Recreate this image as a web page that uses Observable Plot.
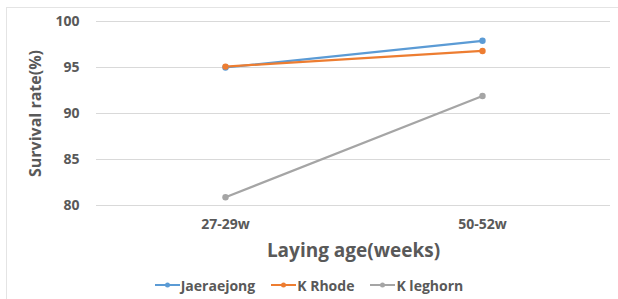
<!DOCTYPE html>
<html>
<head>
<meta charset="utf-8">
<script src="https://cdn.jsdelivr.net/npm/d3@7"></script>
<script src="https://cdn.jsdelivr.net/npm/@observablehq/plot@0.6"></script>
<style>
  html, body { margin: 0; padding: 0; background: #fff; }
  body { width: 618px; height: 299px; overflow: hidden; position: relative; font-family: "Open Sans", sans-serif; }
  #frame { position: absolute; left: 6px; top: 7px; width: 640px; height: 320px; border-left: 1px solid #e4e4e4; border-top: 1px solid #e4e4e4; pointer-events: none; }
  #chart { position: absolute; left: 0; top: 0; }
  #legend { position: absolute; left: 0; top: 273px; width: 618px; height: 24px; display: flex; justify-content: center; align-items: center; gap: 16px; font-weight: 700; font-size: 14px; color: #595959; }
  #legend .item { display: flex; align-items: center; }
  #legend svg { margin-right: 1px; }
</style>
</head>
<body>
<div id="chart"></div>
<div id="legend"></div>
<div id="frame"></div>
<script>
const categories = ["27-29w", "50-52w"];
const seriesNames = ["Jaeraejong", "K Rhode", "K leghorn"];
const jaeraejong = [95.0, 97.9];
const kRhode = [95.1, 96.8];
const kLeghorn = [80.9, 91.9];
const yTicks = [80, 85, 90, 95, 100];
const colors = ["#5B9BD5", "#ED7D31", "#A5A5A5"];
const yTitle = "Survival rate(%)";
const xTitle = "Laying age(weeks)";

const seriesValues = [jaeraejong, kRhode, kLeghorn];
const data = [];
seriesNames.forEach((s, i) => categories.forEach((c, j) => data.push({series: s, age: c, value: seriesValues[i][j]})));

const textColor = "#595959";
const chart = Plot.plot({
  width: 618,
  height: 270,
  marginTop: 21,
  marginBottom: 65,
  marginLeft: 96,
  marginRight: 8,
  style: {fontFamily: "'Open Sans', sans-serif", color: textColor, background: "transparent"},
  x: {type: "point", domain: categories, padding: 0.5},
  y: {domain: [80, 100]},
  color: {domain: seriesNames, range: colors},
  marks: [
    Plot.gridY(yTicks, {stroke: "#d9d9d9", strokeOpacity: 1, strokeWidth: 1}),
    Plot.axisY(yTicks, {tickSize: 0, tickPadding: 17, fontSize: 14, fontWeight: 700, fill: textColor, label: null}),
    Plot.axisX({tickSize: 0, tickPadding: 14, fontSize: 14, fontWeight: 700, fill: textColor, label: null}),
    Plot.text([yTitle], {frameAnchor: "left", text: d => d, rotate: -90, dx: -61, fontSize: 16, fontWeight: 700, fill: textColor, textAnchor: "middle", lineAnchor: "middle"}),
    Plot.text([xTitle], {frameAnchor: "bottom", text: d => d, dy: 45, fontSize: 19, fontWeight: 700, fill: textColor, textAnchor: "middle", lineAnchor: "middle"}),
    Plot.line(data, {x: "age", y: "value", z: "series", stroke: "series", strokeWidth: 2.2}),
    Plot.dot(data, {x: "age", y: "value", fill: "series", r: 3.2})
  ]
});
document.getElementById("chart").appendChild(chart);

const legend = document.getElementById("legend");
seriesNames.forEach((s, i) => {
  const item = document.createElement("div");
  item.className = "item";
  item.innerHTML = `<svg width="25" height="10"><line x1="0" y1="5" x2="25" y2="5" stroke="${colors[i]}" stroke-width="2"/><circle cx="12.5" cy="5" r="2.5" fill="${colors[i]}"/></svg><span>${s}</span>`;
  legend.appendChild(item);
});
</script>
</body>
</html>
